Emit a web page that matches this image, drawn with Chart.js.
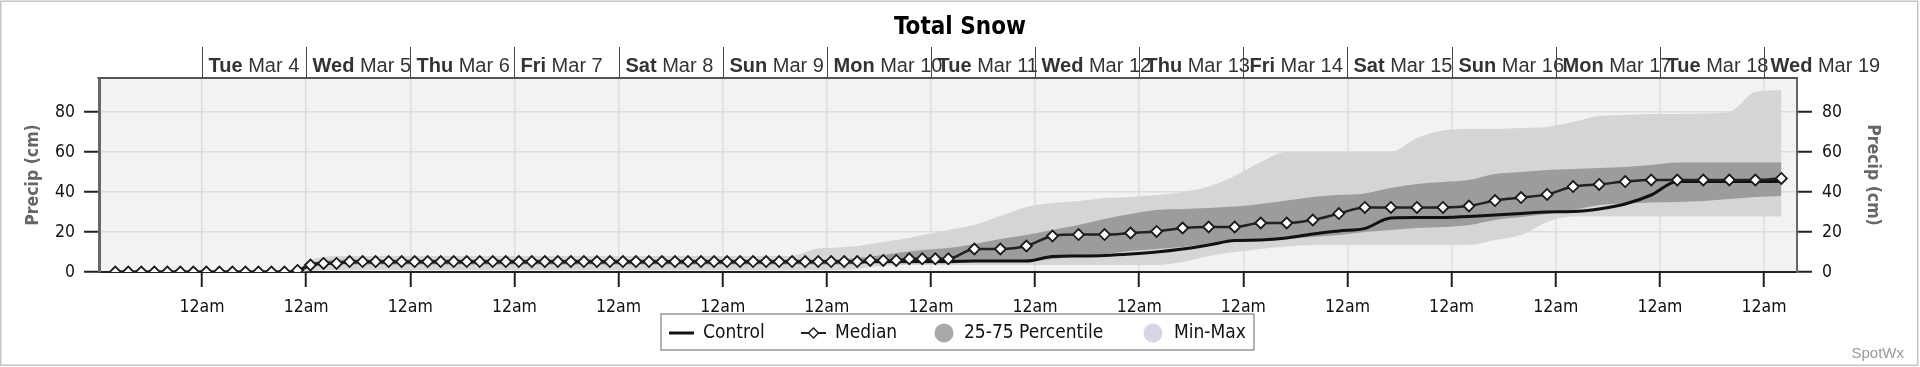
<!DOCTYPE html>
<html>
<head>
<meta charset="utf-8">
<title>Total Snow</title>
<script src="https://cdn.jsdelivr.net/npm/chart.js@4.4.1/dist/chart.umd.min.js"></script>
<style>
  html, body { margin: 0; padding: 0; background: #fff; }
  #wrap { width: 1920px; height: 367px; }
</style>
</head>
<body>
<div id="wrap"><canvas id="snow" width="1920" height="367"></canvas></div>
<script>
// hours after Mar 3 00:00 (3-hourly, then 6-hourly from Mar 11)
const hours = [
  4, 7, 10, 13, 16, 19, 22,                 // Mar 3
  25, 28, 31, 34, 37, 40, 43, 46,           // Mar 4
  49, 52, 55, 58, 61, 64, 67, 70,           // Mar 5
  73, 76, 79, 82, 85, 88, 91, 94,           // Mar 6
  97, 100, 103, 106, 109, 112, 115, 118,    // Mar 7
  121, 124, 127, 130, 133, 136, 139, 142,   // Mar 8
  145, 148, 151, 154, 157, 160, 163, 166,   // Mar 9
  169, 172, 175, 178, 181, 184, 187, 190,   // Mar 10
  193, 196, 202, 208, 214,                  // Mar 11
  220, 226, 232, 238,                       // Mar 12
  244, 250, 256, 262,                       // Mar 13
  268, 274, 280, 286,                       // Mar 14
  292, 298, 304, 310,                       // Mar 15
  316, 322, 328, 334,                       // Mar 16
  340, 346, 352, 358,                       // Mar 17
  364, 370, 376, 382,                       // Mar 18
  388                                       // Mar 19
];

const median = [
  0, 0, 0, 0, 0, 0, 0,
  0, 0, 0, 0, 0, 0, 0, 0.8,
  3.5, 4.3, 4.3, 5.2, 5.2, 5.2, 5.2, 5.2,
  5.2, 5.2, 5.2, 5.2, 5.2, 5.2, 5.2, 5.2,
  5.2, 5.2, 5.2, 5.2, 5.2, 5.2, 5.2, 5.2,
  5.2, 5.2, 5.2, 5.2, 5.2, 5.2, 5.2, 5.2,
  5.2, 5.2, 5.2, 5.2, 5.2, 5.2, 5.2, 5.2,
  5.2, 5.2, 5.2, 5.8, 5.8, 5.8, 6.6, 6.6,
  6.6, 6.6, 11.5, 11.5, 13,
  18, 18.7, 18.7, 19.5,
  20.3, 22, 22.5, 22.5,
  24.5, 24.5, 26, 29.2,
  32.3, 32.3, 32.3, 32.3,
  33, 35.7, 37.2, 38.8,
  42.7, 43.8, 45.2, 46,
  46, 46, 46, 46,
  46.8
];

const control = [
  0, 0, 0, 0, 0, 0, 0,
  0, 0, 0, 0, 0, 0, 0, 0.5,
  3.5, 4.3, 4.5, 5, 5, 5, 5, 5,
  5, 5, 5, 5, 5, 5, 5, 5,
  5, 5, 5, 5, 5, 5, 5, 5,
  5, 5, 5, 5, 5, 5, 5, 5,
  5, 5, 5, 5, 5, 5, 5, 5,
  5, 5, 5, 5.3, 5.3, 5.3, 5.3, 5.3,
  5.3, 5.3, 5.5, 5.5, 5.5,
  7.7, 8, 8.3, 9,
  10, 11.5, 13.5, 15.7,
  16, 17, 19, 20.5,
  21.8, 27, 27.2, 27.3,
  27.8, 28.5, 29.3, 30,
  30.2, 31.5, 34, 38.5,
  45.2, 45.2, 45.2, 45.2,
  45.2
];

const p75 = [
  0, 0, 0, 0, 0, 0, 0,
  0, 0, 0, 0, 0, 0, 0, 1.5,
  4.5, 5.5, 6.3, 6.3, 6.3, 6.3, 6.3, 6.3,
  6.3, 6.3, 6.3, 6.3, 6.3, 6.3, 6.3, 6.3,
  6.3, 6.3, 6.3, 6.3, 6.3, 6.3, 6.3, 6.3,
  6.3, 6.3, 6.3, 6.3, 6.3, 6.3, 6.3, 6.3,
  6.3, 6.3, 6.3, 6.3, 6.3, 6.3, 6.3, 6.3,
  6.3, 6.5, 7, 7.7, 8.5, 9.5, 10.3, 11,
  11.5, 12, 14, 16.5, 18.5,
  21, 23.5, 26.5, 29,
  31, 31.5, 32, 32.7,
  34, 35.7, 37.5, 38.5,
  39.3, 42, 44, 45,
  46, 49, 50, 51,
  51.5, 52, 52.5, 53.5,
  54.7, 54.7, 54.7, 54.7,
  54.7
];

const p25 = [
  0, 0, 0, 0, 0, 0, 0,
  0, 0, 0, 0, 0, 0, 0, 0,
  2.5, 3.5, 3.8, 3.8, 3.8, 3.8, 3.8, 3.8,
  3.8, 3.8, 3.8, 3.8, 3.8, 3.8, 3.8, 3.8,
  3.8, 3.8, 3.8, 3.8, 3.8, 3.8, 3.8, 3.8,
  3.8, 3.8, 3.8, 3.8, 3.8, 3.8, 3.8, 3.8,
  3.8, 3.8, 3.8, 3.8, 3.8, 3.8, 3.8, 3.8,
  3.8, 3.8, 3.8, 4.2, 4.2, 4.2, 4.2, 4.2,
  4.2, 4.2, 5, 5, 5.5,
  6.5, 7.7, 9, 10.5,
  11.5, 12.5, 14, 15.5,
  16, 16.5, 17.5, 18.5,
  20, 21, 22, 22.5,
  23.5, 26, 27.5, 29,
  31, 33.5, 34.3, 34.8,
  35, 35.5, 36.5, 37.5,
  38
];

const maxv = [
  0, 0, 0, 0, 0, 0, 0,
  0, 0, 0, 0, 0, 0, 0, 1.5,
  6, 7.5, 8, 8, 8, 8, 8, 8,
  8, 8, 8, 8, 8, 8, 8, 8,
  8, 8, 8, 8, 8, 8, 8, 8,
  8, 8, 8, 8, 8, 8, 8, 8,
  8, 8, 8, 8, 8, 8, 10, 11.8,
  12, 12.5, 13, 14, 15, 16, 17, 18.5,
  19.5, 21, 23.5, 28, 32.5,
  34.5, 35.5, 37, 37.5,
  38.5, 40, 42.7, 48,
  55, 60, 60, 60,
  60, 60, 67, 70.7,
  71.5, 71.5, 72, 72.5,
  75, 78, 78.5, 79,
  79, 79.3, 80, 90,
  91
];

const minv = [
  0, 0, 0, 0, 0, 0, 0,
  0, 0, 0, 0, 0, 0, 0, 0,
  0.5, 1, 1, 1, 1, 1, 1, 1,
  1, 1, 1, 1, 1, 1, 1, 1,
  1, 1, 1, 1, 1, 1, 1, 1,
  1, 1, 1, 1, 1, 1, 1, 1,
  1, 1, 1, 1, 1, 1, 1, 1,
  1, 1, 1.5, 2.5, 3, 3.5, 3.5, 3.5,
  3.5, 3.5, 3.5, 3.5, 3.5,
  3.5, 3.5, 3.5, 3.5,
  3.5, 5, 8, 10,
  11.5, 12.7, 13.5, 13.5,
  13.5, 13.5, 13.5, 13.5,
  13.5, 16, 18.5, 25,
  27.7, 27.7, 27.7, 27.7,
  27.7, 27.7, 27.7, 27.7,
  27.7
];

// day header, one per midnight from Mar 4
const dayNames = ['Tue', 'Wed', 'Thu', 'Fri', 'Sat', 'Sun', 'Mon', 'Tue',
                  'Wed', 'Thu', 'Fri', 'Sat', 'Sun', 'Mon', 'Tue', 'Wed'];
const dayDates = ['Mar 4', 'Mar 5', 'Mar 6', 'Mar 7', 'Mar 8', 'Mar 9', 'Mar 10', 'Mar 11',
                  'Mar 12', 'Mar 13', 'Mar 14', 'Mar 15', 'Mar 16', 'Mar 17', 'Mar 18', 'Mar 19'];
const yTicks = [0, 20, 40, 60, 80];

const condensed = "'DejaVu Sans Condensed', 'DejaVu Sans', sans-serif";
const arial = "'Liberation Sans', Arial, sans-serif";

const pts = arr => hours.map((h, i) => ({ x: h, y: arr[i] }));

const frame = {
    id: 'frame',
    beforeDraw(chart) {
        const { ctx, chartArea: a } = chart;
        ctx.save();
        ctx.fillStyle = '#fff';
        ctx.fillRect(0, 0, chart.width, chart.height);
        ctx.fillStyle = '#f2f2f2';
        ctx.fillRect(a.left, a.top, a.right - a.left, a.bottom - a.top);
        ctx.restore();
    },
    afterDraw(chart) {
        const { ctx, chartArea: a, scales: { x } } = chart;
        ctx.save();
        // top edge of plot
        ctx.strokeStyle = '#555';
        ctx.lineWidth = 2;
        ctx.beginPath();
        ctx.moveTo(a.left - 1.5, a.top);
        ctx.lineTo(a.right + 1, a.top);
        ctx.stroke();

        // day header
        ctx.lineWidth = 1;
        ctx.strokeStyle = '#444';
        ctx.fillStyle = '#333';
        ctx.textBaseline = 'alphabetic';
        dayNames.forEach((name, i) => {
            const px = Math.round(x.getPixelForValue(24 * (i + 1))) + 0.5;
            ctx.beginPath();
            ctx.moveTo(px, 47);
            ctx.lineTo(px, a.top);
            ctx.stroke();
            ctx.font = 'bold 20px ' + arial;
            ctx.fillText(name, px + 6, 71.5);
            const w = ctx.measureText(name + ' ').width;
            ctx.font = '20px ' + arial;
            ctx.fillText(dayDates[i], px + 6 + w, 71.5);
        });

        // legend
        const ly = 333;
        ctx.fillStyle = '#fff';
        ctx.fillRect(661, 314, 593, 36);
        ctx.strokeStyle = '#999';
        ctx.lineWidth = 1.5;
        ctx.strokeRect(661, 314, 593, 36);
        ctx.font = '19px ' + condensed;
        ctx.textBaseline = 'middle';
        ctx.fillStyle = '#111';

        ctx.strokeStyle = '#111';
        ctx.lineWidth = 3;
        ctx.beginPath(); ctx.moveTo(669, ly); ctx.lineTo(694, ly); ctx.stroke();
        ctx.fillText('Control', 703, ly);

        ctx.strokeStyle = '#222';
        ctx.lineWidth = 2;
        ctx.beginPath(); ctx.moveTo(801, ly); ctx.lineTo(826, ly); ctx.stroke();
        ctx.beginPath();
        ctx.moveTo(813.5, ly - 5); ctx.lineTo(818.5, ly); ctx.lineTo(813.5, ly + 5); ctx.lineTo(808.5, ly);
        ctx.closePath();
        ctx.fillStyle = '#fff'; ctx.fill();
        ctx.lineWidth = 1.5; ctx.stroke();
        ctx.fillStyle = '#111';
        ctx.fillText('Median', 835, ly);

        ctx.fillStyle = '#a8a8a8';
        ctx.beginPath(); ctx.arc(944, ly, 9.5, 0, Math.PI * 2); ctx.fill();
        ctx.fillStyle = '#111';
        ctx.fillText('25-75 Percentile', 964, ly);

        ctx.fillStyle = '#d6d6e6';
        ctx.beginPath(); ctx.arc(1153, ly, 9.5, 0, Math.PI * 2); ctx.fill();
        ctx.fillStyle = '#111';
        ctx.fillText('Min-Max', 1174, ly);

        // credit
        ctx.font = '15px ' + arial;
        ctx.fillStyle = '#999';
        ctx.textAlign = 'right';
        ctx.fillText('SpotWx', 1904, 354);

        // outer frame
        ctx.strokeStyle = '#c4c4c4';
        ctx.lineWidth = 1.5;
        ctx.strokeRect(0.75, 1.25, 1917, 364);
        ctx.restore();
    }
};

const yAxis = (position, width, titlePad, labelPad) => ({
    position: position,
    min: 0,
    max: 97,
    afterFit: s => { s.width = width; },
    afterBuildTicks: s => { s.ticks = yTicks.map(v => ({ value: v })); },
    ticks: {
        padding: labelPad,
        color: '#111',
        font: { family: condensed, size: 17.5 }
    },
    grid: {
        drawOnChartArea: position === 'left',
        color: '#dcdcdc',
        lineWidth: 1.5,
        tickColor: '#222',
        tickWidth: 2,
        tickLength: 15
    },
    border: { display: true, color: '#666', width: position === 'left' ? 3 : 2 },
    title: {
        display: true,
        text: 'Precip (cm)',
        color: '#666',
        font: { family: condensed, size: 17.5, weight: 'bold' },
        padding: { top: titlePad, bottom: 0 }
    }
});

var ctx = document.getElementById('snow').getContext('2d');
var snowChart = new Chart(ctx, {
    type: 'line',
    data: {
        datasets: [
            {
                label: 'Median',
                data: pts(median),
                borderColor: '#222',
                borderWidth: 2.5,
                pointStyle: 'rectRot',
                pointRadius: 5.5,
                pointBackgroundColor: '#fff',
                pointBorderColor: '#1a1a1a',
                pointBorderWidth: 1.8,
                fill: false,
                cubicInterpolationMode: 'monotone'
            },
            {
                label: 'Control',
                data: pts(control),
                borderColor: '#111',
                borderWidth: 3,
                pointRadius: 0,
                fill: false,
                cubicInterpolationMode: 'monotone'
            },
            {
                label: '75th',
                data: pts(p75),
                borderWidth: 0,
                pointRadius: 0,
                backgroundColor: '#9c9c9c',
                fill: '+1',
                cubicInterpolationMode: 'monotone'
            },
            {
                label: '25th',
                data: pts(p25),
                borderWidth: 0,
                pointRadius: 0,
                fill: false,
                cubicInterpolationMode: 'monotone'
            },
            {
                label: 'Max',
                data: pts(maxv),
                borderWidth: 0,
                pointRadius: 0,
                backgroundColor: '#d5d5d5',
                fill: '+1',
                cubicInterpolationMode: 'monotone'
            },
            {
                label: 'Min',
                data: pts(minv),
                borderWidth: 0,
                pointRadius: 0,
                fill: false,
                cubicInterpolationMode: 'monotone'
            }
        ]
    },
    options: {
        responsive: false,
        maintainAspectRatio: false,
        animation: false,
        layout: { padding: 0 },
        plugins: {
            legend: { display: false },
            tooltip: { enabled: false },
            title: {
                display: true,
                text: 'Total Snow',
                color: '#000',
                font: { family: condensed, size: 24, weight: 'bold' },
                padding: { top: 13, bottom: 36.2 }
            }
        },
        scales: {
            x: {
                type: 'linear',
                min: 0.25,
                max: 391.6,
                afterFit: s => { s.height = 95; },
                afterBuildTicks: s => { s.ticks = dayDates.map((d, i) => ({ value: 24 * (i + 1) })); },
                ticks: {
                    autoSkip: false,
                    maxRotation: 0,
                    padding: 10,
                    color: '#111',
                    font: { family: condensed, size: 17.5 },
                    callback: () => '12am'
                },
                grid: {
                    color: '#dcdcdc',
                    lineWidth: 1.5,
                    tickColor: '#222',
                    tickWidth: 2,
                    tickLength: 15
                },
                border: { display: true, color: '#222', width: 2 }
            },
            y: yAxis('left', 99, 23, 9),
            y2: yAxis('right', 123, 37, 10)
        }
    },
    plugins: [frame]
});
</script>
</body>
</html>
